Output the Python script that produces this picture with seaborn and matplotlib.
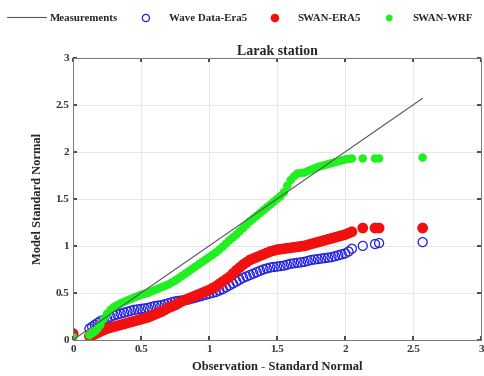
import numpy as np
import pandas as pd
import matplotlib
matplotlib.use("Agg")
import matplotlib.pyplot as plt
import seaborn as sns

obs_x = [0.0, 0.12, 0.14, 0.16, 0.18,
         0.2, 0.225, 0.25, 0.275, 0.3, 0.325, 0.35, 0.375, 0.4, 0.425, 0.45, 0.475,
         0.5, 0.525, 0.55, 0.575, 0.6, 0.625, 0.65, 0.675, 0.7, 0.725, 0.75, 0.775,
         0.8, 0.825, 0.85, 0.875, 0.9, 0.925, 0.95, 0.975, 1.0, 1.025, 1.05, 1.075,
         1.1, 1.125, 1.15, 1.175, 1.2, 1.225, 1.25, 1.275, 1.3, 1.325, 1.35, 1.375,
         1.4, 1.425, 1.45, 1.475, 1.5, 1.525, 1.55, 1.575, 1.6, 1.625, 1.65, 1.675,
         1.7, 1.725, 1.75, 1.775, 1.8, 1.825, 1.85, 1.875, 1.9, 1.925, 1.95, 1.975,
         2.0, 2.025, 2.05,
         2.13, 2.22, 2.25, 2.57]
wave_era5 = [0.07, 0.12, 0.14, 0.16, 0.18,
             0.20, 0.215, 0.23, 0.245, 0.26, 0.27, 0.28, 0.29, 0.30, 0.31, 0.32, 0.325,
             0.33, 0.335, 0.34, 0.35, 0.36, 0.365, 0.37, 0.38, 0.39, 0.40, 0.41, 0.415,
             0.42, 0.425, 0.43, 0.44, 0.45, 0.46, 0.47, 0.48, 0.49, 0.50, 0.51, 0.525,
             0.54, 0.56, 0.58, 0.60, 0.62, 0.64, 0.66, 0.675, 0.69, 0.705, 0.72, 0.735,
             0.75, 0.76, 0.77, 0.775, 0.78, 0.785, 0.79, 0.80, 0.81, 0.815, 0.82, 0.825,
             0.83, 0.84, 0.85, 0.855, 0.86, 0.865, 0.87, 0.875, 0.88, 0.89, 0.90, 0.91,
             0.92, 0.94, 0.97,
             1.00, 1.02, 1.03, 1.04]
swan_era5 = [0.06, 0.04, 0.05, 0.06, 0.075,
             0.09, 0.105, 0.12, 0.13, 0.14, 0.15, 0.16, 0.17, 0.18, 0.19, 0.20, 0.21,
             0.22, 0.23, 0.24, 0.255, 0.27, 0.285, 0.30, 0.32, 0.34, 0.355, 0.37, 0.39,
             0.41, 0.425, 0.44, 0.455, 0.47, 0.485, 0.50, 0.515, 0.53, 0.55, 0.57, 0.595,
             0.62, 0.645, 0.67, 0.705, 0.74, 0.77, 0.80, 0.825, 0.85, 0.865, 0.88, 0.895,
             0.91, 0.925, 0.94, 0.95, 0.96, 0.965, 0.97, 0.975, 0.98, 0.985, 0.99, 0.995,
             1.00, 1.01, 1.02, 1.03, 1.04, 1.05, 1.06, 1.07, 1.08, 1.09, 1.10, 1.11,
             1.12, 1.135, 1.15,
             1.19, 1.19, 1.19, 1.19]
swan_wrf = [0.03, 0.05, 0.07, 0.09, 0.12,
            0.16, 0.22, 0.28, 0.32, 0.35, 0.37, 0.39, 0.405, 0.42, 0.435, 0.45, 0.465,
            0.48, 0.49, 0.50, 0.515, 0.53, 0.545, 0.56, 0.575, 0.59, 0.61, 0.63, 0.655,
            0.68, 0.705, 0.73, 0.755, 0.78, 0.805, 0.83, 0.855, 0.88, 0.905, 0.93, 0.96,
            0.99, 1.025, 1.06, 1.09, 1.12, 1.155, 1.19, 1.225, 1.26, 1.29, 1.32, 1.35,
            1.38, 1.41, 1.44, 1.47, 1.50, 1.53, 1.57, 1.64, 1.70, 1.74, 1.77, 1.775,
            1.78, 1.795, 1.81, 1.825, 1.84, 1.85, 1.86, 1.87, 1.88, 1.89, 1.90, 1.91,
            1.92, 1.925, 1.93,
            1.93, 1.93, 1.93, 1.94]
meas_x = [0.0, 2.57]
meas_y = [0.0, 2.57]

df = pd.DataFrame({"obs": obs_x, "wave": wave_era5, "era5": swan_era5, "wrf": swan_wrf})
dm = pd.DataFrame({"x": meas_x, "y": meas_y})

sns.set_theme(style="whitegrid")
plt.rcParams['font.family'] = ['Liberation Serif', 'DejaVu Serif']
plt.rcParams['font.weight'] = 'bold'

fig = plt.figure(figsize=(4.84, 3.76), dpi=100)
ax = fig.add_axes([0.151, 0.096, 0.843, 0.750])

sns.lineplot(data=dm, x="x", y="y", ax=ax, color="#555555", lw=0.8, label="Measurements")
sns.scatterplot(data=df, x="obs", y="wave", ax=ax, marker="o", s=42, facecolor="none",
                edgecolor="#2020e0", linewidth=0.9, label="Wave Data-Era5")
sns.scatterplot(data=df, x="obs", y="era5", ax=ax, marker="o", s=60, color="#f01010",
                edgecolor="none", label="SWAN-ERA5")
sns.scatterplot(data=df, x="obs", y="wrf", ax=ax, marker="o", s=38, color="#20f020",
                edgecolor="none", label="SWAN-WRF")

ax.set_xlim(0, 3)
ax.set_ylim(0, 3)
ax.set_xticks([0, 0.5, 1, 1.5, 2, 2.5, 3])
ax.set_yticks([0, 0.5, 1, 1.5, 2, 2.5, 3])
ax.set_xticklabels(["0", "0.5", "1", "1.5", "2", "2.5", "3"])
ax.set_yticklabels(["0", "0.5", "1", "1.5", "2", "2.5", "3"])
ax.tick_params(axis="both", labelsize=8, colors="#333333", direction="in", length=3,
               top=True, right=True, bottom=True, left=True)
ax.tick_params(axis="x", pad=4)
ax.tick_params(axis="y", pad=3)
ax.set_facecolor("white")
ax.grid(True, color="#e6e6e6", lw=0.7)
for sp in ax.spines.values():
    sp.set_color("#777777")
    sp.set_linewidth(0.7)
ax.set_xlabel("Observation - Standard Normal", fontsize=9, fontweight="bold", labelpad=5)
ax.set_ylabel("Model Standard Normal", fontsize=9, fontweight="bold", labelpad=8)
ax.set_title("Larak station", fontsize=10, fontweight="bold", pad=2)

handles, labels = ax.get_legend_handles_labels()
ax.get_legend().remove()
fig.legend(handles, labels, loc="center left", bbox_to_anchor=(0.006, 0.952), ncol=4,
           frameon=False, fontsize=7.8, handlelength=3.6, columnspacing=0.8,
           handletextpad=0.3, markerscale=0.8, borderaxespad=0)

fig.savefig("out.png", dpi=100, facecolor="white")
